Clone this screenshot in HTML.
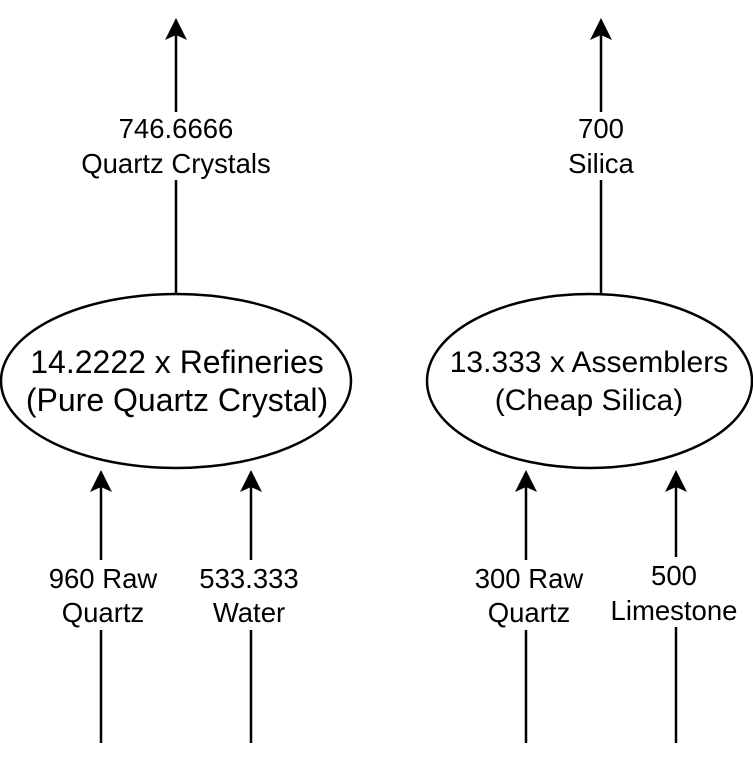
<!DOCTYPE html>
<html><head><meta charset="utf-8"><style>
html,body{margin:0;padding:0;background:#fff;}
svg{display:block;}
text{font-family:"Liberation Sans",Arial,sans-serif;fill:#000;}
</style></head><body>
<svg width="753" height="768" viewBox="0 0 753 768" xmlns="http://www.w3.org/2000/svg">
<g stroke="#000" stroke-width="2.5" fill="none">
<ellipse cx="176" cy="381" rx="175" ry="87"/>
<ellipse cx="589.5" cy="381" rx="162.5" ry="87"/>
<line x1="176" y1="294" x2="176" y2="30"/>
<line x1="601" y1="294" x2="601" y2="30"/>
<line x1="101" y1="743" x2="101" y2="482"/>
<line x1="251" y1="743" x2="251" y2="482"/>
<line x1="526" y1="743" x2="526" y2="482"/>
<line x1="676" y1="743" x2="676" y2="482"/>
</g>
<g fill="#000">
<path d="M176 18 L187 40 L176 35 L165 40Z"/>
<path d="M601 18 L612 40 L601 35 L590 40Z"/>
<path d="M101 470 L112 492 L101 487 L90 492Z"/>
<path d="M251 470 L262 492 L251 487 L240 492Z"/>
<path d="M526 470 L537 492 L526 487 L515 492Z"/>
<path d="M676 470 L687 492 L676 487 L665 492Z"/>
</g>
<g fill="#fff">
<rect x="78" y="112" width="198" height="68"/>
<rect x="565" y="112" width="72" height="68"/>
<rect x="40" y="560" width="125" height="70"/>
<rect x="190" y="560" width="120" height="70"/>
<rect x="465" y="560" width="125" height="70"/>
<rect x="606" y="557" width="140" height="70"/>
</g>
<g font-size="27.5" text-anchor="middle">
<text x="176" y="138">746.6666</text>
<text x="176" y="173">Quartz Crystals</text>
<text x="601" y="138">700</text>
<text x="601" y="173">Silica</text>
<text x="103" y="588">960 Raw</text>
<text x="103" y="622">Quartz</text>
<text x="249" y="588">533.333</text>
<text x="249" y="622">Water</text>
<text x="529" y="588">300 Raw</text>
<text x="529" y="622">Quartz</text>
<text x="674" y="585">500</text>
<text x="674" y="620">Limestone</text>
</g>
<g text-anchor="middle">
<text x="177" y="373" font-size="32">14.2222 x Refineries</text>
<text x="177" y="411" font-size="32">(Pure Quartz Crystal)</text>
<text x="589" y="372" font-size="30">13.333 x Assemblers</text>
<text x="589" y="410" font-size="30">(Cheap Silica)</text>
</g>
</svg>
</body></html>
